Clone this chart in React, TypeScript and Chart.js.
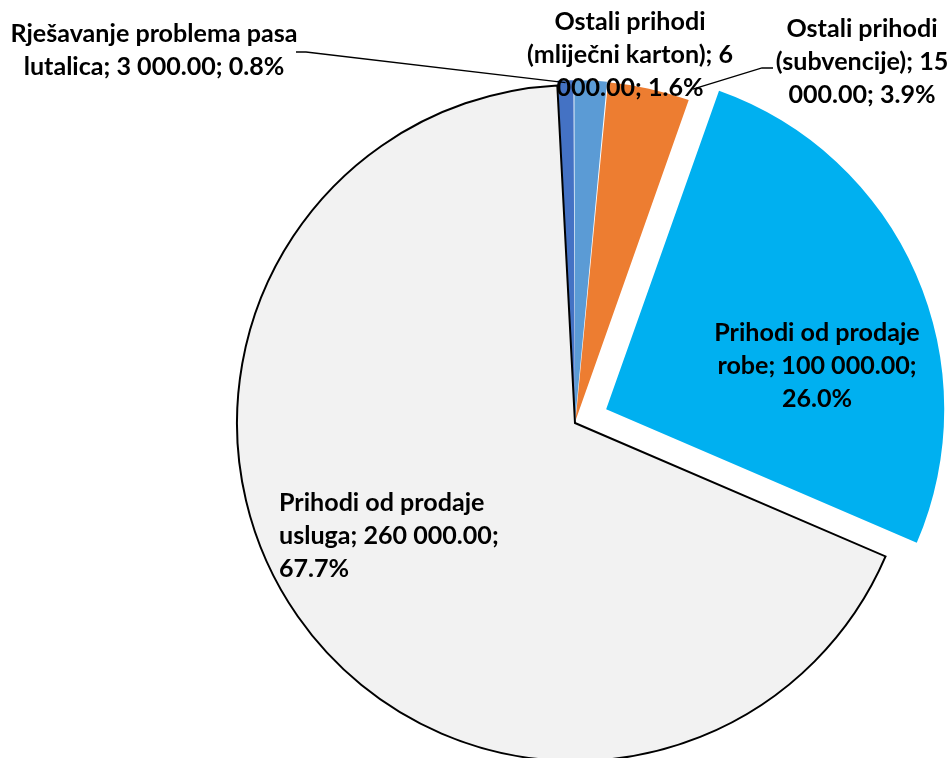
import React, { useEffect, useRef } from 'react';
import { Chart, registerables } from 'chart.js';

Chart.register(...registerables);

// ---- data ----
const CATEGORIES = [
  'Rješavanje problema pasa lutalica',
  'Ostali prihodi (mliječni karton)',
  'Ostali prihodi (subvencije)',
  'Prihodi od prodaje robe',
  'Prihodi od prodaje usluga',
];
const VALUES = [3000, 6000, 15000, 100000, 260000];
const LABEL_LINES = [
  ['Rješavanje problema pasa', 'lutalica; 3 000.00; 0.8%'],
  ['Ostali prihodi', '(mliječni karton); 6', '000.00; 1.6%'],
  ['Ostali prihodi', '(subvencije); 15', '000.00; 3.9%'],
  ['Prihodi od prodaje', 'robe; 100 000.00;', '26.0%'],
  ['Prihodi od prodaje', 'usluga; 260 000.00;', '67.7%'],
];

// ---- styles ----
const COLORS = ['#4472C4', '#5B9BD5', '#ED7D31', '#00B0F0', '#F2F2F2'];
const BORDER_WIDTHS = [0, 0, 0, 0, 2];
const OFFSETS = [10, 10, 10, 136, 0];

// label layout (text anchor, alignment, optional leader line)
type LabelPos = {
  x: number;
  y: number;
  align: CanvasTextAlign;
  leader?: number[][];
  anchor?: 'mid' | 'end';
  anchorR?: number;
};
const LABEL_POS: LabelPos[] = [
  { x: 154, y: 42, align: 'center', leader: [[296, 52], [306, 52]], anchor: 'mid', anchorR: 1.0 },
  { x: 630, y: 30, align: 'center' },
  { x: 862, y: 37, align: 'center', leader: [[773, 68], [762, 68]], anchor: 'end', anchorR: 1.04 },
  { x: 817, y: 341, align: 'center' },
  { x: 279, y: 511, align: 'left' },
];
const FONT = 'bold 24px Lato';
const LINE_H = 33;
const WIDTH_REF = { text: 'Rješavanje problema pasa', width: 287 };

const labelPlugin = {
  id: 'excelLabels',
  afterDatasetsDraw(chart: any) {
    const ctx: CanvasRenderingContext2D = chart.ctx;
    const meta = chart.getDatasetMeta(0);
    ctx.save();
    ctx.font = FONT;
    const sx = WIDTH_REF.width / ctx.measureText(WIDTH_REF.text).width;
    // leader lines
    ctx.strokeStyle = '#000';
    ctx.lineWidth = 1.3;
    LABEL_POS.forEach((p, i) => {
      if (!p.leader) return;
      const arc = meta.data[i];
      const { x, y, startAngle, endAngle, outerRadius } = arc.getProps(
        ['x', 'y', 'startAngle', 'endAngle', 'outerRadius'],
        true
      );
      const mid = (startAngle + endAngle) / 2;
      const off = (OFFSETS[i] || 0) / 4;
      const a = p.anchor === 'end' ? endAngle : mid;
      const r = outerRadius * (p.anchorR || 1);
      const ax = x + Math.cos(mid) * off + Math.cos(a) * r;
      const ay = y + Math.sin(mid) * off + Math.sin(a) * r;
      ctx.beginPath();
      ctx.moveTo(p.leader[0][0], p.leader[0][1]);
      for (let k = 1; k < p.leader.length; k++) ctx.lineTo(p.leader[k][0], p.leader[k][1]);
      ctx.lineTo(ax, ay);
      ctx.stroke();
    });
    // text
    ctx.fillStyle = '#000';
    ctx.textBaseline = 'alphabetic';
    LABEL_LINES.forEach((lines, i) => {
      const p = LABEL_POS[i];
      ctx.save();
      ctx.translate(p.x, p.y);
      ctx.scale(sx, 1);
      ctx.textAlign = p.align;
      lines.forEach((line, j) => ctx.fillText(line, 0, j * LINE_H));
      ctx.restore();
    });
    ctx.restore();
  },
};

export default function App() {
  const ref = useRef<HTMLCanvasElement | null>(null);
  useEffect(() => {
    if (!ref.current) return;
    const chart = new Chart(ref.current, {
      type: 'pie',
      data: {
        labels: CATEGORIES,
        datasets: [
          {
            data: VALUES,
            backgroundColor: COLORS,
            borderColor: '#000000',
            borderWidth: BORDER_WIDTHS,
            borderJoinStyle: 'miter',
            offset: OFFSETS,
            clip: false,
          } as any,
        ],
      },
      options: {
        responsive: false,
        animation: false,
        rotation: -3,
        radius: 338,
        layout: { padding: { left: 199, right: 0, top: 88, bottom: 0 } },
        plugins: {
          legend: { display: false },
          tooltip: { enabled: false },
        },
      } as any,
      plugins: [labelPlugin],
    });
    return () => chart.destroy();
  }, []);
  return (
    <div style={{ position: 'absolute', left: 0, top: 0, width: 951, height: 758, background: '#fff' }}>
      <canvas ref={ref} width={951} height={758} />
    </div>
  );
}
